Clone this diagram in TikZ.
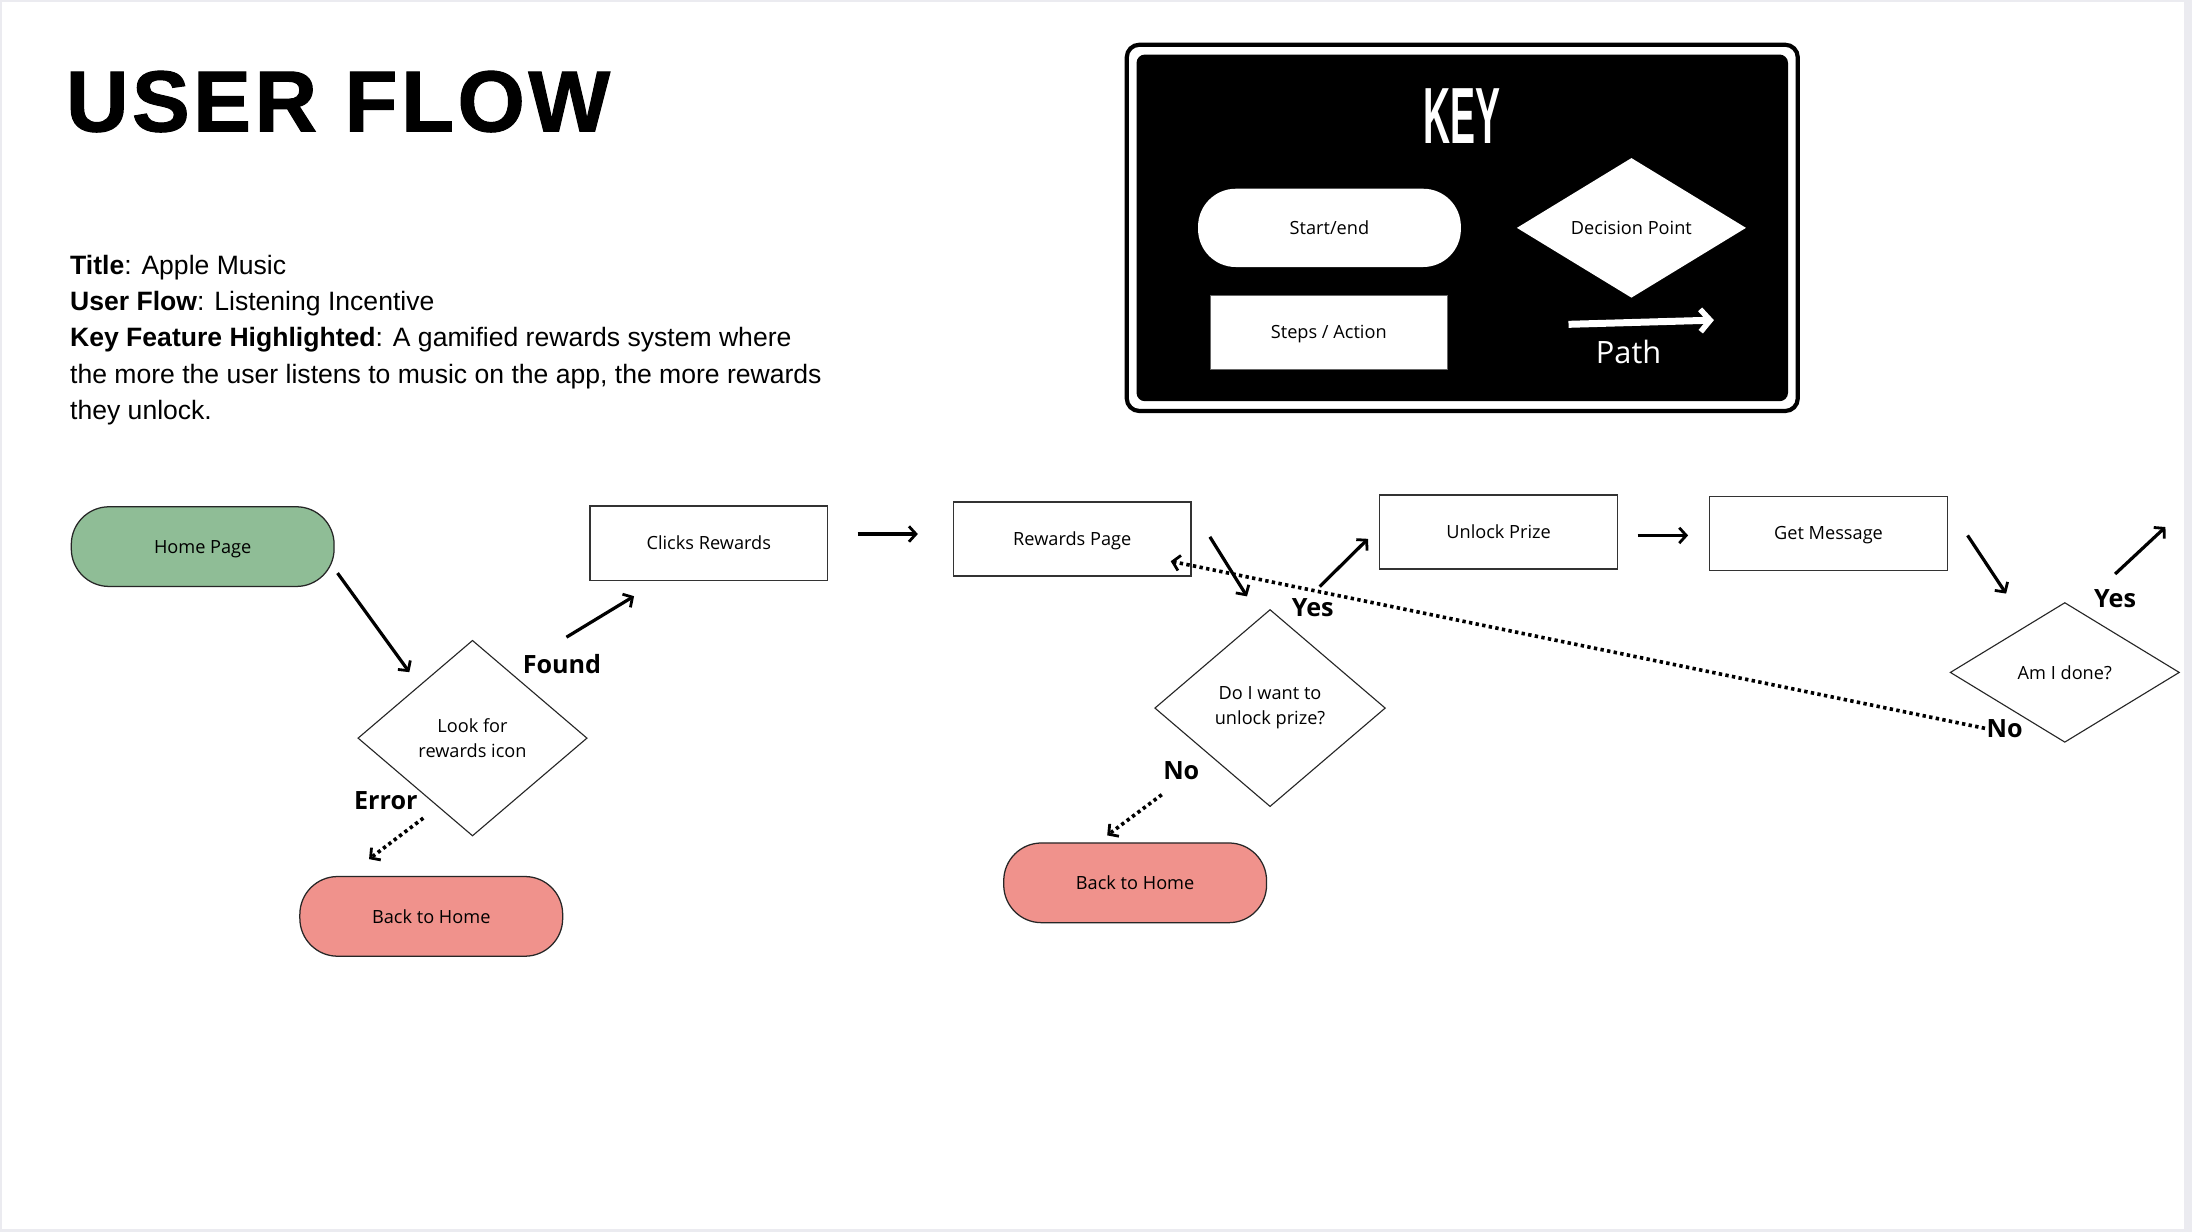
\documentclass[tikz,border=0pt]{standalone}
\usepackage{fontspec}
\setmainfont{Liberation Sans}
\newfontfamily\nodefont{Open Sans}
\newfontfamily\titlefont[LetterSpace=4,FakeBold=1.2]{Liberation Sans Bold}
\usetikzlibrary{arrows.meta,shapes.geometric,calc}
\definecolor{homegreen}{HTML}{8FBD96}
\definecolor{backred}{HTML}{F0928C}
\definecolor{framegray}{HTML}{EBEBF0}
\tikzset{
  nodetext/.style={font=\nodefont\fontsize{13}{18}\selectfont, align=center},
  oneline/.style={text height=9.5pt, text depth=0pt},
  stepbox/.style={nodetext, oneline, draw=black!80, line width=0.9pt, minimum width=170pt, minimum height=53pt, inner sep=0pt},
  pill/.style={nodetext, oneline, draw=black!85, line width=0.9pt, rounded corners=27pt, minimum width=188pt, minimum height=57pt, inner sep=0pt},
  decision/.style={nodetext, diamond, draw=black!85, line width=0.8pt, inner sep=0pt, minimum width=164pt, minimum height=140pt},
  keypill/.style={nodetext, oneline, fill=white, rounded corners=27pt, minimum width=188pt, minimum height=56pt, inner sep=0pt},
  keystep/.style={nodetext, oneline, fill=white, draw=black!60, minimum width=169pt, minimum height=53pt, inner sep=0pt},
  keydiamond/.style={nodetext, oneline, diamond, fill=white, inner sep=0pt, minimum width=164pt, minimum height=100pt},
  arr/.style={line width=2.3pt, -{Straight Barb[length=5pt,width=11pt,line width=2pt]}},
  dotarr/.style={line width=2.6pt, dash pattern=on 2.4pt off 2.4pt, -{Straight Barb[length=5pt,width=11pt,line width=2pt]}},
  lbl/.style={font=\nodefont\bfseries\fontsize{18}{20}\selectfont, inner sep=0pt},
  desc/.style={anchor=base west, inner sep=0pt, font=\fontsize{19}{26}\selectfont}
}
\begin{document}
\begin{tikzpicture}[x=1pt,y=-1pt]
\useasboundingbox (0,0) rectangle (1568,881);
\fill[framegray] (0,0) rectangle (1568,881);
\fill[white] (1.5,1.5) rectangle (1562,879);

% title and description
\node[anchor=base west, inner sep=0pt, font=\titlefont\fontsize{62}{62}\selectfont] (title) at (47,94) {USER FLOW};
\node[desc] (d1) at (50,196) {\textbf{Title}: Apple Music};
\node[desc] (d2) at (50,222) {\textbf{User Flow}: Listening Incentive};
\node[desc] (d3) at (50,248) {\textbf{Key Feature Highlighted}: A gamified rewards system where};
\node[desc] (d4) at (50,274) {the more the user listens to music on the app, the more rewards};
\node[desc] (d5) at (50,300) {they unlock.};

% key
\draw[black, line width=3pt, rounded corners=9pt] (806,32) rectangle (1286,294);
\fill[black, rounded corners=6pt] (813,39) rectangle (1279,287);
\node[white, inner sep=0pt, font=\fontsize{57}{57}\selectfont\bfseries] (key) at (1046,83) {\scalebox{0.47}[1]{KEY}};
\node[keypill] (kstart) at (951,163) {Start/end};
\node[keydiamond] (kdec) at (1167,163) {Decision Point};
\node[keystep] (kstep) at (950.5,237.5) {Steps / Action};
\coordinate (pathA) at (1122,232);
\coordinate (pathB) at (1226,229);
\draw[white, line width=5pt, -{Straight Barb[length=7pt,width=16pt,line width=4pt]}] (pathA) -- (pathB);
\node[white, inner sep=0pt, font=\nodefont\fontsize{22}{24}\selectfont] (kpath) at (1165,252) {Path};

% flow nodes
\node[pill, fill=homegreen] (home) at (145,391) {Home Page};
\node[decision] (look) at (338,528) {Look for\\rewards icon};
\node[stepbox] (clicks) at (507,388.5) {Clicks Rewards};
\node[stepbox] (rewards) at (767,385.5) {Rewards Page};
\node[decision, minimum width=165pt, minimum height=141pt] (unlockq) at (908.5,506.5) {Do I want to\\unlock prize?};
\node[pill, fill=backred] (back2) at (812,631.5) {Back to Home};
\node[pill, fill=backred] (back1) at (308.5,655.5) {Back to Home};
\node[stepbox] (unlock) at (1072,380.5) {Unlock Prize};
\node[stepbox] (getmsg) at (1308,381.5) {Get Message};
\node[decision, oneline, minimum height=100pt] (done) at (1477,481) {Am I done?};

% labels
\node[lbl] (found) at (402,475) {Found};
\node[lbl] (error) at (276,573) {Error};
\node[lbl] (yes1) at (939,435) {Yes};
\node[lbl] (no1) at (845,551) {No};
\node[lbl] (yes2) at (1513,428) {Yes};
\node[lbl] (no2) at (1434,521) {No};

% connectors
\draw[arr] ([shift={(2,-10)}]home.south east) -- ([shift={(-4,-12)}]$(look.north)!0.5!(look.west)$);
\draw[arr] ([shift={(26,-37)}]$(look.north)!0.5!(look.east)$) -- ([shift={(32,11)}]clicks.south west);
\draw[dotarr] ([shift={(6,22)}]$(look.south)!0.5!(look.west)$) -- ([shift={(-44.5,-12)}]back1.north);
\draw[arr] ([shift={(21,-6.5)}]clicks.east) -- ([shift={(-25,-3.5)}]rewards.west);
\draw[arr] ([shift={(13,-1.5)}]rewards.east) -- ([shift={(-16.5,-9)}]unlockq.north);
\draw[arr] ([shift={(35.5,-16)}]unlockq.north) -- ([shift={(-8,-22)}]unlock.south west);
\draw[dotarr] ([shift={(-36,26.5)}]$(unlockq.south)!0.5!(unlockq.west)$) -- ([shift={(-20,-5)}]back2.north);
\draw[arr] ([shift={(14,2.5)}]unlock.east) -- ([shift={(-15,1.5)}]getmsg.west);
\draw[arr] ([shift={(14,1.5)}]getmsg.east) -- ([shift={(-42,-6)}]done.north);
\coordinate (exitYes) at (1549,377);
\draw[arr] ([shift={(36,-20)}]done.north) -- (exitYes);
\draw[dotarr] ([xshift=-1pt]no2.west) -- ([shift={(-15,-11)}]rewards.south east);
\end{tikzpicture}
\end{document}
